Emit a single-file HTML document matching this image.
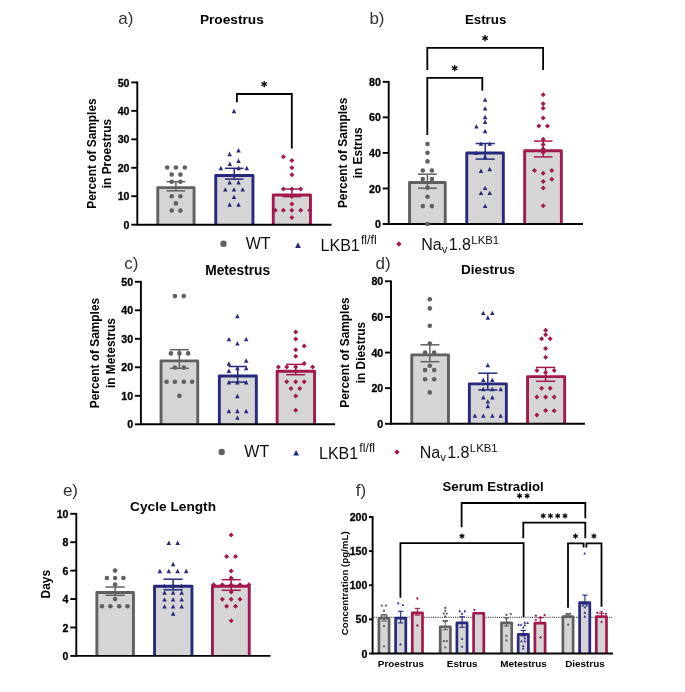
<!DOCTYPE html>
<html><head><meta charset="utf-8"><style>
html,body{margin:0;padding:0;background:#fff;}
svg{display:block;will-change:transform;}
#w{width:685px;height:692px;}
text{font-family:"Liberation Sans",sans-serif;}
</style></head><body><div id="w">
<svg width="685" height="692" viewBox="0 0 685 692">
<rect width="685" height="692" fill="#fff"/>
<text x="0.00" y="0.00" font-size="11.9" font-weight="bold" text-anchor="middle" fill="#000" transform="translate(95.70,153.55) rotate(-90)">Percent of Samples</text>
<text x="0.00" y="0.00" font-size="11.9" font-weight="bold" text-anchor="middle" fill="#000" transform="translate(111.00,153.55) rotate(-90)">in Proestrus</text>
<text x="118.20" y="24.20" font-size="17" font-weight="normal" text-anchor="start" fill="#333" >a)</text>
<text x="199.90" y="23.90" font-size="13.7" font-weight="bold" text-anchor="start" fill="#000" >Proestrus</text>
<rect x="157.75" y="187.65" width="36.30" height="37.05" fill="#d5d5d5"/>
<path d="M157.75 224.70V187.65H194.05V224.70" fill="none" stroke="#606060" stroke-width="2.9" stroke-linejoin="round"/>
<rect x="215.75" y="175.45" width="37.20" height="49.25" fill="#d5d5d5"/>
<path d="M215.75 224.70V175.45H252.95V224.70" fill="none" stroke="#272a7c" stroke-width="2.9" stroke-linejoin="round"/>
<rect x="273.25" y="195.05" width="37.20" height="29.65" fill="#d5d5d5"/>
<path d="M273.25 224.70V195.05H310.45V224.70" fill="none" stroke="#a2194f" stroke-width="2.9" stroke-linejoin="round"/>
<line x1="137.30" y1="81.50" x2="137.30" y2="225.60" stroke="#000" stroke-width="1.9" />
<line x1="131.30" y1="224.70" x2="137.30" y2="224.70" stroke="#000" stroke-width="1.9" />
<text x="129.50" y="228.80" font-size="10.6" font-weight="bold" text-anchor="end" fill="#000" stroke="#000" stroke-width="0.3">0</text>
<line x1="131.30" y1="196.24" x2="137.30" y2="196.24" stroke="#000" stroke-width="1.9" />
<text x="129.50" y="200.34" font-size="10.6" font-weight="bold" text-anchor="end" fill="#000" stroke="#000" stroke-width="0.3">10</text>
<line x1="131.30" y1="167.78" x2="137.30" y2="167.78" stroke="#000" stroke-width="1.9" />
<text x="129.50" y="171.88" font-size="10.6" font-weight="bold" text-anchor="end" fill="#000" stroke="#000" stroke-width="0.3">20</text>
<line x1="131.30" y1="139.32" x2="137.30" y2="139.32" stroke="#000" stroke-width="1.9" />
<text x="129.50" y="143.42" font-size="10.6" font-weight="bold" text-anchor="end" fill="#000" stroke="#000" stroke-width="0.3">30</text>
<line x1="131.30" y1="110.86" x2="137.30" y2="110.86" stroke="#000" stroke-width="1.9" />
<text x="129.50" y="114.96" font-size="10.6" font-weight="bold" text-anchor="end" fill="#000" stroke="#000" stroke-width="0.3">40</text>
<line x1="131.30" y1="82.40" x2="137.30" y2="82.40" stroke="#000" stroke-width="1.9" />
<text x="129.50" y="86.50" font-size="10.6" font-weight="bold" text-anchor="end" fill="#000" stroke="#000" stroke-width="0.3">50</text>
<line x1="137.30" y1="224.70" x2="331.50" y2="224.70" stroke="#000" stroke-width="1.9" />
<circle cx="167.20" cy="167.50" r="2.3" fill="#606060"/>
<circle cx="175.90" cy="167.50" r="2.3" fill="#606060"/>
<circle cx="184.80" cy="167.50" r="2.3" fill="#606060"/>
<circle cx="171.70" cy="174.60" r="2.3" fill="#606060"/>
<circle cx="180.40" cy="174.60" r="2.3" fill="#606060"/>
<circle cx="171.70" cy="181.70" r="2.3" fill="#606060"/>
<circle cx="180.40" cy="181.70" r="2.3" fill="#606060"/>
<circle cx="171.70" cy="196.30" r="2.3" fill="#606060"/>
<circle cx="180.40" cy="196.30" r="2.3" fill="#606060"/>
<circle cx="175.90" cy="203.40" r="2.3" fill="#606060"/>
<circle cx="171.70" cy="210.60" r="2.3" fill="#606060"/>
<circle cx="180.40" cy="210.60" r="2.3" fill="#606060"/>
<line x1="175.90" y1="181.70" x2="175.90" y2="190.80" stroke="#606060" stroke-width="1.5" />
<line x1="166.60" y1="181.70" x2="185.20" y2="181.70" stroke="#606060" stroke-width="1.5" />
<line x1="166.60" y1="190.80" x2="185.20" y2="190.80" stroke="#606060" stroke-width="1.5" />
<path d="M234.00 108.83L236.25 113.24L231.75 113.24Z" fill="#272a7c"/>
<path d="M238.50 148.03L240.75 152.44L236.25 152.44Z" fill="#272a7c"/>
<path d="M229.60 151.73L231.85 156.14L227.35 156.14Z" fill="#272a7c"/>
<path d="M229.80 161.53L232.05 165.94L227.55 165.94Z" fill="#272a7c"/>
<path d="M238.50 158.53L240.75 162.94L236.25 162.94Z" fill="#272a7c"/>
<path d="M220.90 165.83L223.15 170.24L218.65 170.24Z" fill="#272a7c"/>
<path d="M238.50 165.83L240.75 170.24L236.25 170.24Z" fill="#272a7c"/>
<path d="M246.80 165.83L249.05 170.24L244.55 170.24Z" fill="#272a7c"/>
<path d="M229.60 180.03L231.85 184.44L227.35 184.44Z" fill="#272a7c"/>
<path d="M238.50 180.03L240.75 184.44L236.25 184.44Z" fill="#272a7c"/>
<path d="M225.30 187.13L227.55 191.54L223.05 191.54Z" fill="#272a7c"/>
<path d="M234.00 187.13L236.25 191.54L231.75 191.54Z" fill="#272a7c"/>
<path d="M242.70 187.13L244.95 191.54L240.45 191.54Z" fill="#272a7c"/>
<path d="M234.00 194.63L236.25 199.04L231.75 199.04Z" fill="#272a7c"/>
<path d="M229.60 202.33L231.85 206.74L227.35 206.74Z" fill="#272a7c"/>
<path d="M238.50 202.33L240.75 206.74L236.25 206.74Z" fill="#272a7c"/>
<line x1="234.20" y1="168.30" x2="234.20" y2="179.10" stroke="#272a7c" stroke-width="1.5" />
<line x1="224.90" y1="168.30" x2="243.50" y2="168.30" stroke="#272a7c" stroke-width="1.5" />
<line x1="224.90" y1="179.10" x2="243.50" y2="179.10" stroke="#272a7c" stroke-width="1.5" />
<path d="M283.40 154.20L285.90 156.70L283.40 159.20L280.90 156.70Z" fill="#a2194f"/>
<path d="M291.90 158.10L294.40 160.60L291.90 163.10L289.40 160.60Z" fill="#a2194f"/>
<path d="M291.90 165.30L294.40 167.80L291.90 170.30L289.40 167.80Z" fill="#a2194f"/>
<path d="M291.90 172.20L294.40 174.70L291.90 177.20L289.40 174.70Z" fill="#a2194f"/>
<path d="M283.40 186.50L285.90 189.00L283.40 191.50L280.90 189.00Z" fill="#a2194f"/>
<path d="M291.90 186.50L294.40 189.00L291.90 191.50L289.40 189.00Z" fill="#a2194f"/>
<path d="M300.70 186.50L303.20 189.00L300.70 191.50L298.20 189.00Z" fill="#a2194f"/>
<path d="M291.90 194.10L294.40 196.60L291.90 199.10L289.40 196.60Z" fill="#a2194f"/>
<path d="M291.90 201.50L294.40 204.00L291.90 206.50L289.40 204.00Z" fill="#a2194f"/>
<path d="M275.30 207.80L277.80 210.30L275.30 212.80L272.80 210.30Z" fill="#a2194f"/>
<path d="M283.40 207.80L285.90 210.30L283.40 212.80L280.90 210.30Z" fill="#a2194f"/>
<path d="M291.90 207.80L294.40 210.30L291.90 212.80L289.40 210.30Z" fill="#a2194f"/>
<path d="M300.70 207.80L303.20 210.30L300.70 212.80L298.20 210.30Z" fill="#a2194f"/>
<path d="M309.70 207.80L312.20 210.30L309.70 212.80L307.20 210.30Z" fill="#a2194f"/>
<path d="M291.90 214.90L294.40 217.40L291.90 219.90L289.40 217.40Z" fill="#a2194f"/>
<line x1="291.90" y1="189.00" x2="291.90" y2="196.60" stroke="#a2194f" stroke-width="1.5" />
<line x1="282.50" y1="189.00" x2="301.30" y2="189.00" stroke="#a2194f" stroke-width="1.5" />
<line x1="282.50" y1="196.60" x2="301.30" y2="196.60" stroke="#a2194f" stroke-width="1.5" />
<path d="M236.9 102.2V94.0H291.8V148.6" fill="none" stroke="#000" stroke-width="1.8"/>
<line x1="264.20" y1="81.05" x2="264.20" y2="87.35" stroke="#000" stroke-width="1.3" />
<line x1="261.47" y1="82.62" x2="266.93" y2="85.78" stroke="#000" stroke-width="1.3" />
<line x1="266.93" y1="82.62" x2="261.47" y2="85.78" stroke="#000" stroke-width="1.3" />
<text x="0.00" y="0.00" font-size="11.9" font-weight="bold" text-anchor="middle" fill="#000" transform="translate(347.10,152.93) rotate(-90)">Percent of Samples</text>
<text x="0.00" y="0.00" font-size="11.9" font-weight="bold" text-anchor="middle" fill="#000" transform="translate(362.40,152.93) rotate(-90)">in Estrus</text>
<text x="369.40" y="24.40" font-size="17" font-weight="normal" text-anchor="start" fill="#333" >b)</text>
<text x="464.90" y="23.80" font-size="13.3" font-weight="bold" text-anchor="start" fill="#000" >Estrus</text>
<rect x="409.55" y="182.45" width="35.70" height="41.55" fill="#d5d5d5"/>
<path d="M409.55 224.00V182.45H445.25V224.00" fill="none" stroke="#606060" stroke-width="2.9" stroke-linejoin="round"/>
<rect x="466.75" y="152.95" width="36.60" height="71.05" fill="#d5d5d5"/>
<path d="M466.75 224.00V152.95H503.35V224.00" fill="none" stroke="#272a7c" stroke-width="2.9" stroke-linejoin="round"/>
<rect x="524.65" y="150.75" width="36.70" height="73.25" fill="#d5d5d5"/>
<path d="M524.65 224.00V150.75H561.35V224.00" fill="none" stroke="#a2194f" stroke-width="2.9" stroke-linejoin="round"/>
<line x1="388.70" y1="80.95" x2="388.70" y2="224.90" stroke="#000" stroke-width="1.9" />
<line x1="382.70" y1="224.00" x2="388.70" y2="224.00" stroke="#000" stroke-width="1.9" />
<text x="380.90" y="228.10" font-size="10.6" font-weight="bold" text-anchor="end" fill="#000" stroke="#000" stroke-width="0.3">0</text>
<line x1="382.70" y1="188.46" x2="388.70" y2="188.46" stroke="#000" stroke-width="1.9" />
<text x="380.90" y="192.56" font-size="10.6" font-weight="bold" text-anchor="end" fill="#000" stroke="#000" stroke-width="0.3">20</text>
<line x1="382.70" y1="152.93" x2="388.70" y2="152.93" stroke="#000" stroke-width="1.9" />
<text x="380.90" y="157.03" font-size="10.6" font-weight="bold" text-anchor="end" fill="#000" stroke="#000" stroke-width="0.3">40</text>
<line x1="382.70" y1="117.39" x2="388.70" y2="117.39" stroke="#000" stroke-width="1.9" />
<text x="380.90" y="121.49" font-size="10.6" font-weight="bold" text-anchor="end" fill="#000" stroke="#000" stroke-width="0.3">60</text>
<line x1="382.70" y1="81.85" x2="388.70" y2="81.85" stroke="#000" stroke-width="1.9" />
<text x="380.90" y="85.95" font-size="10.6" font-weight="bold" text-anchor="end" fill="#000" stroke="#000" stroke-width="0.3">80</text>
<line x1="388.70" y1="224.00" x2="583.00" y2="224.00" stroke="#000" stroke-width="1.9" />
<circle cx="427.50" cy="144.00" r="2.3" fill="#606060"/>
<circle cx="427.50" cy="152.80" r="2.3" fill="#606060"/>
<circle cx="427.50" cy="161.40" r="2.3" fill="#606060"/>
<circle cx="422.80" cy="170.50" r="2.3" fill="#606060"/>
<circle cx="431.90" cy="170.50" r="2.3" fill="#606060"/>
<circle cx="422.80" cy="179.10" r="2.3" fill="#606060"/>
<circle cx="431.90" cy="179.10" r="2.3" fill="#606060"/>
<circle cx="427.50" cy="187.70" r="2.3" fill="#606060"/>
<circle cx="427.50" cy="196.80" r="2.3" fill="#606060"/>
<circle cx="422.80" cy="206.10" r="2.3" fill="#606060"/>
<circle cx="431.90" cy="206.10" r="2.3" fill="#606060"/>
<circle cx="427.50" cy="224.00" r="2.3" fill="#606060"/>
<line x1="427.40" y1="174.20" x2="427.40" y2="188.20" stroke="#606060" stroke-width="1.5" />
<line x1="418.00" y1="174.20" x2="436.80" y2="174.20" stroke="#606060" stroke-width="1.5" />
<line x1="418.00" y1="188.20" x2="436.80" y2="188.20" stroke="#606060" stroke-width="1.5" />
<path d="M485.10 97.43L487.35 101.84L482.85 101.84Z" fill="#272a7c"/>
<path d="M485.10 106.13L487.35 110.54L482.85 110.54Z" fill="#272a7c"/>
<path d="M485.10 114.73L487.35 119.14L482.85 119.14Z" fill="#272a7c"/>
<path d="M485.10 119.53L487.35 123.94L482.85 123.94Z" fill="#272a7c"/>
<path d="M476.40 124.13L478.65 128.54L474.15 128.54Z" fill="#272a7c"/>
<path d="M485.10 128.83L487.35 133.24L482.85 133.24Z" fill="#272a7c"/>
<path d="M481.00 141.43L483.25 145.84L478.75 145.84Z" fill="#272a7c"/>
<path d="M489.70 141.43L491.95 145.84L487.45 145.84Z" fill="#272a7c"/>
<path d="M476.20 150.53L478.45 154.94L473.95 154.94Z" fill="#272a7c"/>
<path d="M485.10 154.23L487.35 158.64L482.85 158.64Z" fill="#272a7c"/>
<path d="M481.00 168.53L483.25 172.94L478.75 172.94Z" fill="#272a7c"/>
<path d="M489.70 166.73L491.95 171.14L487.45 171.14Z" fill="#272a7c"/>
<path d="M485.10 185.63L487.35 190.04L482.85 190.04Z" fill="#272a7c"/>
<path d="M481.00 190.63L483.25 195.04L478.75 195.04Z" fill="#272a7c"/>
<path d="M489.70 190.63L491.95 195.04L487.45 195.04Z" fill="#272a7c"/>
<path d="M485.10 203.63L487.35 208.04L482.85 208.04Z" fill="#272a7c"/>
<line x1="485.20" y1="143.50" x2="485.20" y2="159.10" stroke="#272a7c" stroke-width="1.5" />
<line x1="475.60" y1="143.50" x2="494.80" y2="143.50" stroke="#272a7c" stroke-width="1.5" />
<line x1="475.60" y1="159.10" x2="494.80" y2="159.10" stroke="#272a7c" stroke-width="1.5" />
<path d="M543.20 92.20L545.70 94.70L543.20 97.20L540.70 94.70Z" fill="#a2194f"/>
<path d="M543.20 101.30L545.70 103.80L543.20 106.30L540.70 103.80Z" fill="#a2194f"/>
<path d="M543.20 105.70L545.70 108.20L543.20 110.70L540.70 108.20Z" fill="#a2194f"/>
<path d="M543.20 115.40L545.70 117.90L543.20 120.40L540.70 117.90Z" fill="#a2194f"/>
<path d="M538.80 123.40L541.30 125.90L538.80 128.40L536.30 125.90Z" fill="#a2194f"/>
<path d="M547.50 123.40L550.00 125.90L547.50 128.40L545.00 125.90Z" fill="#a2194f"/>
<path d="M543.20 136.70L545.70 139.20L543.20 141.70L540.70 139.20Z" fill="#a2194f"/>
<path d="M543.20 141.90L545.70 144.40L543.20 146.90L540.70 144.40Z" fill="#a2194f"/>
<path d="M543.20 146.40L545.70 148.90L543.20 151.40L540.70 148.90Z" fill="#a2194f"/>
<path d="M543.20 150.10L545.70 152.60L543.20 155.10L540.70 152.60Z" fill="#a2194f"/>
<path d="M534.50 168.10L537.00 170.60L534.50 173.10L532.00 170.60Z" fill="#a2194f"/>
<path d="M551.80 168.10L554.30 170.60L551.80 173.10L549.30 170.60Z" fill="#a2194f"/>
<path d="M543.20 170.70L545.70 173.20L543.20 175.70L540.70 173.20Z" fill="#a2194f"/>
<path d="M551.80 176.70L554.30 179.20L551.80 181.70L549.30 179.20Z" fill="#a2194f"/>
<path d="M543.20 178.90L545.70 181.40L543.20 183.90L540.70 181.40Z" fill="#a2194f"/>
<path d="M543.20 185.40L545.70 187.90L543.20 190.40L540.70 187.90Z" fill="#a2194f"/>
<path d="M543.20 203.20L545.70 205.70L543.20 208.20L540.70 205.70Z" fill="#a2194f"/>
<line x1="543.20" y1="141.10" x2="543.20" y2="156.90" stroke="#a2194f" stroke-width="1.5" />
<line x1="533.90" y1="141.10" x2="552.50" y2="141.10" stroke="#a2194f" stroke-width="1.5" />
<line x1="533.90" y1="156.90" x2="552.50" y2="156.90" stroke="#a2194f" stroke-width="1.5" />
<path d="M427.3 70V47.8H543.1V70" fill="none" stroke="#000" stroke-width="1.8"/>
<path d="M427.3 134.9V77.9H482.3V90.8" fill="none" stroke="#000" stroke-width="1.8"/>
<line x1="485.10" y1="34.95" x2="485.10" y2="41.25" stroke="#000" stroke-width="1.3" />
<line x1="482.37" y1="36.52" x2="487.83" y2="39.68" stroke="#000" stroke-width="1.3" />
<line x1="487.83" y1="36.52" x2="482.37" y2="39.68" stroke="#000" stroke-width="1.3" />
<line x1="454.70" y1="65.05" x2="454.70" y2="71.35" stroke="#000" stroke-width="1.3" />
<line x1="451.97" y1="66.62" x2="457.43" y2="69.78" stroke="#000" stroke-width="1.3" />
<line x1="457.43" y1="66.62" x2="451.97" y2="69.78" stroke="#000" stroke-width="1.3" />
<circle cx="223.50" cy="243.80" r="3.2" fill="#606060"/>
<text x="245.70" y="249.40" font-size="16" font-weight="normal" text-anchor="start" fill="#111" >WT</text>
<path d="M298.00 242.23L300.90 247.91L295.10 247.91Z" fill="#272a7c"/>
<text x="320.60" y="251.30" font-size="16" font-weight="normal" text-anchor="start" fill="#111" >LKB1<tspan font-size="12.3" dx="1.2" dy="-7.2">fl/fl</tspan></text>
<path d="M398.90 241.30L401.60 244.00L398.90 246.70L396.20 244.00Z" fill="#a2194f"/>
<text x="421.30" y="249.70" font-size="16" font-weight="normal" text-anchor="start" fill="#111" >Na<tspan font-size="11.5" dy="3.4">v</tspan><tspan dx="1.2" dy="-3.4">1.8</tspan><tspan font-size="11.3" dx="0.4" dy="-5.6">LKB1</tspan></text>
<text x="0.00" y="0.00" font-size="11.9" font-weight="bold" text-anchor="middle" fill="#000" transform="translate(99.30,353.05) rotate(-90)">Percent of Samples</text>
<text x="0.00" y="0.00" font-size="11.9" font-weight="bold" text-anchor="middle" fill="#000" transform="translate(114.60,353.05) rotate(-90)">in Metestrus</text>
<text x="124.20" y="269.20" font-size="17" font-weight="normal" text-anchor="start" fill="#333" >c)</text>
<text x="205.20" y="274.90" font-size="13.75" font-weight="bold" text-anchor="start" fill="#000" >Metestrus</text>
<rect x="161.05" y="360.85" width="36.70" height="63.45" fill="#d5d5d5"/>
<path d="M161.05 424.30V360.85H197.75V424.30" fill="none" stroke="#606060" stroke-width="2.9" stroke-linejoin="round"/>
<rect x="219.35" y="376.05" width="37.00" height="48.25" fill="#d5d5d5"/>
<path d="M219.35 424.30V376.05H256.35V424.30" fill="none" stroke="#272a7c" stroke-width="2.9" stroke-linejoin="round"/>
<rect x="277.15" y="371.25" width="37.40" height="53.05" fill="#d5d5d5"/>
<path d="M277.15 424.30V371.25H314.55V424.30" fill="none" stroke="#a2194f" stroke-width="2.9" stroke-linejoin="round"/>
<line x1="140.90" y1="280.90" x2="140.90" y2="425.20" stroke="#000" stroke-width="1.9" />
<line x1="134.90" y1="424.30" x2="140.90" y2="424.30" stroke="#000" stroke-width="1.9" />
<text x="133.10" y="428.40" font-size="10.6" font-weight="bold" text-anchor="end" fill="#000" stroke="#000" stroke-width="0.3">0</text>
<line x1="134.90" y1="395.80" x2="140.90" y2="395.80" stroke="#000" stroke-width="1.9" />
<text x="133.10" y="399.90" font-size="10.6" font-weight="bold" text-anchor="end" fill="#000" stroke="#000" stroke-width="0.3">10</text>
<line x1="134.90" y1="367.30" x2="140.90" y2="367.30" stroke="#000" stroke-width="1.9" />
<text x="133.10" y="371.40" font-size="10.6" font-weight="bold" text-anchor="end" fill="#000" stroke="#000" stroke-width="0.3">20</text>
<line x1="134.90" y1="338.80" x2="140.90" y2="338.80" stroke="#000" stroke-width="1.9" />
<text x="133.10" y="342.90" font-size="10.6" font-weight="bold" text-anchor="end" fill="#000" stroke="#000" stroke-width="0.3">30</text>
<line x1="134.90" y1="310.30" x2="140.90" y2="310.30" stroke="#000" stroke-width="1.9" />
<text x="133.10" y="314.40" font-size="10.6" font-weight="bold" text-anchor="end" fill="#000" stroke="#000" stroke-width="0.3">40</text>
<line x1="134.90" y1="281.80" x2="140.90" y2="281.80" stroke="#000" stroke-width="1.9" />
<text x="133.10" y="285.90" font-size="10.6" font-weight="bold" text-anchor="end" fill="#000" stroke="#000" stroke-width="0.3">50</text>
<line x1="140.90" y1="424.30" x2="335.10" y2="424.30" stroke="#000" stroke-width="1.9" />
<circle cx="174.90" cy="296.10" r="2.3" fill="#606060"/>
<circle cx="183.80" cy="296.10" r="2.3" fill="#606060"/>
<circle cx="170.90" cy="353.40" r="2.3" fill="#606060"/>
<circle cx="179.40" cy="353.40" r="2.3" fill="#606060"/>
<circle cx="188.10" cy="353.40" r="2.3" fill="#606060"/>
<circle cx="174.90" cy="367.50" r="2.3" fill="#606060"/>
<circle cx="183.80" cy="367.50" r="2.3" fill="#606060"/>
<circle cx="166.60" cy="381.70" r="2.3" fill="#606060"/>
<circle cx="174.90" cy="381.70" r="2.3" fill="#606060"/>
<circle cx="183.80" cy="381.70" r="2.3" fill="#606060"/>
<circle cx="192.10" cy="381.70" r="2.3" fill="#606060"/>
<circle cx="179.40" cy="395.90" r="2.3" fill="#606060"/>
<line x1="179.40" y1="349.70" x2="179.40" y2="368.30" stroke="#606060" stroke-width="1.5" />
<line x1="169.90" y1="349.70" x2="188.90" y2="349.70" stroke="#606060" stroke-width="1.5" />
<line x1="169.90" y1="368.30" x2="188.90" y2="368.30" stroke="#606060" stroke-width="1.5" />
<path d="M237.40 313.83L239.65 318.24L235.15 318.24Z" fill="#272a7c"/>
<path d="M228.90 336.93L231.15 341.34L226.65 341.34Z" fill="#272a7c"/>
<path d="M246.20 336.93L248.45 341.34L243.95 341.34Z" fill="#272a7c"/>
<path d="M237.40 341.13L239.65 345.54L235.15 345.54Z" fill="#272a7c"/>
<path d="M228.90 361.23L231.15 365.64L226.65 365.64Z" fill="#272a7c"/>
<path d="M246.20 358.33L248.45 362.74L243.95 362.74Z" fill="#272a7c"/>
<path d="M237.40 365.93L239.65 370.34L235.15 370.34Z" fill="#272a7c"/>
<path d="M246.20 365.93L248.45 370.34L243.95 370.34Z" fill="#272a7c"/>
<path d="M228.90 368.53L231.15 372.94L226.65 372.94Z" fill="#272a7c"/>
<path d="M228.90 380.03L231.15 384.44L226.65 384.44Z" fill="#272a7c"/>
<path d="M237.40 380.03L239.65 384.44L235.15 384.44Z" fill="#272a7c"/>
<path d="M246.20 380.03L248.45 384.44L243.95 384.44Z" fill="#272a7c"/>
<path d="M237.40 393.83L239.65 398.24L235.15 398.24Z" fill="#272a7c"/>
<path d="M228.90 408.83L231.15 413.24L226.65 413.24Z" fill="#272a7c"/>
<path d="M237.40 408.83L239.65 413.24L235.15 413.24Z" fill="#272a7c"/>
<path d="M246.20 408.83L248.45 413.24L243.95 413.24Z" fill="#272a7c"/>
<path d="M237.40 415.43L239.65 419.84L235.15 419.84Z" fill="#272a7c"/>
<line x1="237.70" y1="366.50" x2="237.70" y2="382.10" stroke="#272a7c" stroke-width="1.5" />
<line x1="228.50" y1="366.50" x2="246.90" y2="366.50" stroke="#272a7c" stroke-width="1.5" />
<line x1="228.50" y1="382.10" x2="246.90" y2="382.10" stroke="#272a7c" stroke-width="1.5" />
<path d="M295.70 329.40L298.20 331.90L295.70 334.40L293.20 331.90Z" fill="#a2194f"/>
<path d="M295.70 336.50L298.20 339.00L295.70 341.50L293.20 339.00Z" fill="#a2194f"/>
<path d="M304.20 343.50L306.70 346.00L304.20 348.50L301.70 346.00Z" fill="#a2194f"/>
<path d="M295.70 347.20L298.20 349.70L295.70 352.20L293.20 349.70Z" fill="#a2194f"/>
<path d="M295.70 353.80L298.20 356.30L295.70 358.80L293.20 356.30Z" fill="#a2194f"/>
<path d="M304.20 361.00L306.70 363.50L304.20 366.00L301.70 363.50Z" fill="#a2194f"/>
<path d="M278.40 364.50L280.90 367.00L278.40 369.50L275.90 367.00Z" fill="#a2194f"/>
<path d="M286.70 364.50L289.20 367.00L286.70 369.50L284.20 367.00Z" fill="#a2194f"/>
<path d="M295.70 364.50L298.20 367.00L295.70 369.50L293.20 367.00Z" fill="#a2194f"/>
<path d="M312.60 364.50L315.10 367.00L312.60 369.50L310.10 367.00Z" fill="#a2194f"/>
<path d="M286.70 379.20L289.20 381.70L286.70 384.20L284.20 381.70Z" fill="#a2194f"/>
<path d="M295.70 379.20L298.20 381.70L295.70 384.20L293.20 381.70Z" fill="#a2194f"/>
<path d="M304.20 379.20L306.70 381.70L304.20 384.20L301.70 381.70Z" fill="#a2194f"/>
<path d="M291.00 386.10L293.50 388.60L291.00 391.10L288.50 388.60Z" fill="#a2194f"/>
<path d="M299.80 386.10L302.30 388.60L299.80 391.10L297.30 388.60Z" fill="#a2194f"/>
<path d="M295.70 393.60L298.20 396.10L295.70 398.60L293.20 396.10Z" fill="#a2194f"/>
<path d="M295.70 407.70L298.20 410.20L295.70 412.70L293.20 410.20Z" fill="#a2194f"/>
<line x1="295.70" y1="364.40" x2="295.70" y2="374.70" stroke="#a2194f" stroke-width="1.5" />
<line x1="286.20" y1="364.40" x2="305.20" y2="364.40" stroke="#a2194f" stroke-width="1.5" />
<line x1="286.20" y1="374.70" x2="305.20" y2="374.70" stroke="#a2194f" stroke-width="1.5" />
<text x="0.00" y="0.00" font-size="11.9" font-weight="bold" text-anchor="middle" fill="#000" transform="translate(349.40,352.55) rotate(-90)">Percent of Samples</text>
<text x="0.00" y="0.00" font-size="11.9" font-weight="bold" text-anchor="middle" fill="#000" transform="translate(364.70,352.55) rotate(-90)">in Diestrus</text>
<text x="375.60" y="269.00" font-size="17" font-weight="normal" text-anchor="start" fill="#333" >d)</text>
<text x="460.90" y="273.80" font-size="13.5" font-weight="bold" text-anchor="start" fill="#000" >Diestrus</text>
<rect x="411.75" y="354.85" width="36.70" height="68.95" fill="#d5d5d5"/>
<path d="M411.75 423.80V354.85H448.45V423.80" fill="none" stroke="#606060" stroke-width="2.9" stroke-linejoin="round"/>
<rect x="469.35" y="383.85" width="37.00" height="39.95" fill="#d5d5d5"/>
<path d="M469.35 423.80V383.85H506.35V423.80" fill="none" stroke="#272a7c" stroke-width="2.9" stroke-linejoin="round"/>
<rect x="527.55" y="376.65" width="37.10" height="47.15" fill="#d5d5d5"/>
<path d="M527.55 423.80V376.65H564.65V423.80" fill="none" stroke="#a2194f" stroke-width="2.9" stroke-linejoin="round"/>
<line x1="391.00" y1="280.40" x2="391.00" y2="424.70" stroke="#000" stroke-width="1.9" />
<line x1="385.00" y1="423.80" x2="391.00" y2="423.80" stroke="#000" stroke-width="1.9" />
<text x="383.20" y="427.90" font-size="10.6" font-weight="bold" text-anchor="end" fill="#000" stroke="#000" stroke-width="0.3">0</text>
<line x1="385.00" y1="388.18" x2="391.00" y2="388.18" stroke="#000" stroke-width="1.9" />
<text x="383.20" y="392.28" font-size="10.6" font-weight="bold" text-anchor="end" fill="#000" stroke="#000" stroke-width="0.3">20</text>
<line x1="385.00" y1="352.55" x2="391.00" y2="352.55" stroke="#000" stroke-width="1.9" />
<text x="383.20" y="356.65" font-size="10.6" font-weight="bold" text-anchor="end" fill="#000" stroke="#000" stroke-width="0.3">40</text>
<line x1="385.00" y1="316.93" x2="391.00" y2="316.93" stroke="#000" stroke-width="1.9" />
<text x="383.20" y="321.03" font-size="10.6" font-weight="bold" text-anchor="end" fill="#000" stroke="#000" stroke-width="0.3">60</text>
<line x1="385.00" y1="281.30" x2="391.00" y2="281.30" stroke="#000" stroke-width="1.9" />
<text x="383.20" y="285.40" font-size="10.6" font-weight="bold" text-anchor="end" fill="#000" stroke="#000" stroke-width="0.3">80</text>
<line x1="391.00" y1="423.80" x2="584.90" y2="423.80" stroke="#000" stroke-width="1.9" />
<circle cx="429.80" cy="299.20" r="2.3" fill="#606060"/>
<circle cx="429.80" cy="308.40" r="2.3" fill="#606060"/>
<circle cx="429.80" cy="325.80" r="2.3" fill="#606060"/>
<circle cx="429.80" cy="343.50" r="2.3" fill="#606060"/>
<circle cx="425.10" cy="352.60" r="2.3" fill="#606060"/>
<circle cx="434.20" cy="352.60" r="2.3" fill="#606060"/>
<circle cx="429.80" cy="365.80" r="2.3" fill="#606060"/>
<circle cx="425.10" cy="370.10" r="2.3" fill="#606060"/>
<circle cx="434.20" cy="370.10" r="2.3" fill="#606060"/>
<circle cx="425.10" cy="379.20" r="2.3" fill="#606060"/>
<circle cx="434.20" cy="379.20" r="2.3" fill="#606060"/>
<circle cx="429.80" cy="392.40" r="2.3" fill="#606060"/>
<line x1="429.90" y1="344.80" x2="429.90" y2="361.70" stroke="#606060" stroke-width="1.5" />
<line x1="420.40" y1="344.80" x2="439.40" y2="344.80" stroke="#606060" stroke-width="1.5" />
<line x1="420.40" y1="361.70" x2="439.40" y2="361.70" stroke="#606060" stroke-width="1.5" />
<path d="M483.30 310.63L485.55 315.04L481.05 315.04Z" fill="#272a7c"/>
<path d="M492.30 310.63L494.55 315.04L490.05 315.04Z" fill="#272a7c"/>
<path d="M487.80 315.33L490.05 319.74L485.55 319.74Z" fill="#272a7c"/>
<path d="M487.80 362.93L490.05 367.34L485.55 367.34Z" fill="#272a7c"/>
<path d="M483.30 377.63L485.55 382.04L481.05 382.04Z" fill="#272a7c"/>
<path d="M492.30 377.63L494.55 382.04L490.05 382.04Z" fill="#272a7c"/>
<path d="M483.30 386.83L485.55 391.24L481.05 391.24Z" fill="#272a7c"/>
<path d="M492.30 386.83L494.55 391.24L490.05 391.24Z" fill="#272a7c"/>
<path d="M500.70 386.83L502.95 391.24L498.45 391.24Z" fill="#272a7c"/>
<path d="M483.30 395.03L485.55 399.44L481.05 399.44Z" fill="#272a7c"/>
<path d="M492.30 395.03L494.55 399.44L490.05 399.44Z" fill="#272a7c"/>
<path d="M487.80 399.13L490.05 403.54L485.55 403.54Z" fill="#272a7c"/>
<path d="M487.80 403.83L490.05 408.24L485.55 408.24Z" fill="#272a7c"/>
<path d="M474.90 413.43L477.15 417.84L472.65 417.84Z" fill="#272a7c"/>
<path d="M483.30 413.43L485.55 417.84L481.05 417.84Z" fill="#272a7c"/>
<path d="M492.30 413.43L494.55 417.84L490.05 417.84Z" fill="#272a7c"/>
<path d="M500.70 413.43L502.95 417.84L498.45 417.84Z" fill="#272a7c"/>
<line x1="487.80" y1="373.20" x2="487.80" y2="389.90" stroke="#272a7c" stroke-width="1.5" />
<line x1="478.20" y1="373.20" x2="497.40" y2="373.20" stroke="#272a7c" stroke-width="1.5" />
<line x1="478.20" y1="389.90" x2="497.40" y2="389.90" stroke="#272a7c" stroke-width="1.5" />
<path d="M545.60 327.70L548.10 330.20L545.60 332.70L543.10 330.20Z" fill="#a2194f"/>
<path d="M545.60 332.20L548.10 334.70L545.60 337.20L543.10 334.70Z" fill="#a2194f"/>
<path d="M541.60 336.30L544.10 338.80L541.60 341.30L539.10 338.80Z" fill="#a2194f"/>
<path d="M550.10 336.30L552.60 338.80L550.10 341.30L547.60 338.80Z" fill="#a2194f"/>
<path d="M545.60 345.90L548.10 348.40L545.60 350.90L543.10 348.40Z" fill="#a2194f"/>
<path d="M545.60 354.70L548.10 357.20L545.60 359.70L543.10 357.20Z" fill="#a2194f"/>
<path d="M536.90 368.00L539.40 370.50L536.90 373.00L534.40 370.50Z" fill="#a2194f"/>
<path d="M554.20 368.00L556.70 370.50L554.20 373.00L551.70 370.50Z" fill="#a2194f"/>
<path d="M545.60 370.10L548.10 372.60L545.60 375.10L543.10 372.60Z" fill="#a2194f"/>
<path d="M541.60 385.80L544.10 388.30L541.60 390.80L539.10 388.30Z" fill="#a2194f"/>
<path d="M550.10 385.80L552.60 388.30L550.10 390.80L547.60 388.30Z" fill="#a2194f"/>
<path d="M536.90 394.60L539.40 397.10L536.90 399.60L534.40 397.10Z" fill="#a2194f"/>
<path d="M545.60 394.60L548.10 397.10L545.60 399.60L543.10 397.10Z" fill="#a2194f"/>
<path d="M554.20 394.60L556.70 397.10L554.20 399.60L551.70 397.10Z" fill="#a2194f"/>
<path d="M545.60 407.90L548.10 410.40L545.60 412.90L543.10 410.40Z" fill="#a2194f"/>
<path d="M554.20 408.30L556.70 410.80L554.20 413.30L551.70 410.80Z" fill="#a2194f"/>
<path d="M536.90 412.40L539.40 414.90L536.90 417.40L534.40 414.90Z" fill="#a2194f"/>
<line x1="545.60" y1="367.40" x2="545.60" y2="381.30" stroke="#a2194f" stroke-width="1.5" />
<line x1="535.90" y1="367.40" x2="555.30" y2="367.40" stroke="#a2194f" stroke-width="1.5" />
<line x1="535.90" y1="381.30" x2="555.30" y2="381.30" stroke="#a2194f" stroke-width="1.5" />
<circle cx="221.70" cy="452.00" r="3.2" fill="#606060"/>
<text x="244.30" y="456.80" font-size="16" font-weight="normal" text-anchor="start" fill="#111" >WT</text>
<path d="M296.10 449.93L299.00 455.61L293.20 455.61Z" fill="#272a7c"/>
<text x="319.00" y="459.20" font-size="16" font-weight="normal" text-anchor="start" fill="#111" >LKB1<tspan font-size="12.3" dx="1.2" dy="-7.2">fl/fl</tspan></text>
<path d="M397.00 449.40L399.70 452.10L397.00 454.80L394.30 452.10Z" fill="#a2194f"/>
<text x="419.80" y="457.90" font-size="16" font-weight="normal" text-anchor="start" fill="#111" >Na<tspan font-size="11.5" dy="3.4">v</tspan><tspan dx="1.2" dy="-3.4">1.8</tspan><tspan font-size="11.3" dx="0.4" dy="-5.6">LKB1</tspan></text>
<text x="0.00" y="0.00" font-size="11.9" font-weight="bold" text-anchor="middle" fill="#000" transform="translate(50.2,584.2) rotate(-90)">Days</text>
<text x="62.90" y="495.50" font-size="17" font-weight="normal" text-anchor="start" fill="#333" >e)</text>
<text x="130.10" y="511.00" font-size="13.7" font-weight="bold" text-anchor="start" fill="#000" >Cycle Length</text>
<rect x="96.85" y="592.55" width="36.60" height="63.35" fill="#d5d5d5"/>
<path d="M96.85 655.90V592.55H133.45V655.90" fill="none" stroke="#606060" stroke-width="2.9" stroke-linejoin="round"/>
<rect x="154.55" y="586.25" width="37.40" height="69.65" fill="#d5d5d5"/>
<path d="M154.55 655.90V586.25H191.95V655.90" fill="none" stroke="#272a7c" stroke-width="2.9" stroke-linejoin="round"/>
<rect x="212.45" y="586.25" width="36.80" height="69.65" fill="#d5d5d5"/>
<path d="M212.45 655.90V586.25H249.25V655.90" fill="none" stroke="#a2194f" stroke-width="2.9" stroke-linejoin="round"/>
<line x1="76.30" y1="512.90" x2="76.30" y2="656.80" stroke="#000" stroke-width="1.9" />
<line x1="70.30" y1="655.90" x2="76.30" y2="655.90" stroke="#000" stroke-width="1.9" />
<text x="68.50" y="660.00" font-size="10.6" font-weight="bold" text-anchor="end" fill="#000" stroke="#000" stroke-width="0.3">0</text>
<line x1="70.30" y1="627.48" x2="76.30" y2="627.48" stroke="#000" stroke-width="1.9" />
<text x="68.50" y="631.58" font-size="10.6" font-weight="bold" text-anchor="end" fill="#000" stroke="#000" stroke-width="0.3">2</text>
<line x1="70.30" y1="599.06" x2="76.30" y2="599.06" stroke="#000" stroke-width="1.9" />
<text x="68.50" y="603.16" font-size="10.6" font-weight="bold" text-anchor="end" fill="#000" stroke="#000" stroke-width="0.3">4</text>
<line x1="70.30" y1="570.64" x2="76.30" y2="570.64" stroke="#000" stroke-width="1.9" />
<text x="68.50" y="574.74" font-size="10.6" font-weight="bold" text-anchor="end" fill="#000" stroke="#000" stroke-width="0.3">6</text>
<line x1="70.30" y1="542.22" x2="76.30" y2="542.22" stroke="#000" stroke-width="1.9" />
<text x="68.50" y="546.32" font-size="10.6" font-weight="bold" text-anchor="end" fill="#000" stroke="#000" stroke-width="0.3">8</text>
<line x1="70.30" y1="513.80" x2="76.30" y2="513.80" stroke="#000" stroke-width="1.9" />
<text x="68.50" y="517.90" font-size="10.6" font-weight="bold" text-anchor="end" fill="#000" stroke="#000" stroke-width="0.3">10</text>
<line x1="76.30" y1="655.90" x2="270.50" y2="655.90" stroke="#000" stroke-width="1.9" />
<circle cx="115.10" cy="570.60" r="2.3" fill="#606060"/>
<circle cx="106.90" cy="578.00" r="2.3" fill="#606060"/>
<circle cx="115.10" cy="578.00" r="2.3" fill="#606060"/>
<circle cx="123.40" cy="578.00" r="2.3" fill="#606060"/>
<circle cx="115.10" cy="584.60" r="2.3" fill="#606060"/>
<circle cx="115.10" cy="599.10" r="2.3" fill="#606060"/>
<circle cx="101.90" cy="606.20" r="2.3" fill="#606060"/>
<circle cx="110.40" cy="606.20" r="2.3" fill="#606060"/>
<circle cx="119.20" cy="606.20" r="2.3" fill="#606060"/>
<circle cx="127.50" cy="606.20" r="2.3" fill="#606060"/>
<line x1="115.10" y1="587.00" x2="115.10" y2="595.30" stroke="#606060" stroke-width="1.5" />
<line x1="105.50" y1="587.00" x2="124.70" y2="587.00" stroke="#606060" stroke-width="1.5" />
<line x1="105.50" y1="595.30" x2="124.70" y2="595.30" stroke="#606060" stroke-width="1.5" />
<path d="M168.80 540.53L171.05 544.94L166.55 544.94Z" fill="#272a7c"/>
<path d="M177.60 540.53L179.85 544.94L175.35 544.94Z" fill="#272a7c"/>
<path d="M173.10 561.73L175.35 566.14L170.85 566.14Z" fill="#272a7c"/>
<path d="M159.90 568.83L162.15 573.24L157.65 573.24Z" fill="#272a7c"/>
<path d="M168.80 568.83L171.05 573.24L166.55 573.24Z" fill="#272a7c"/>
<path d="M177.60 568.83L179.85 573.24L175.35 573.24Z" fill="#272a7c"/>
<path d="M186.20 568.83L188.45 573.24L183.95 573.24Z" fill="#272a7c"/>
<path d="M164.50 583.43L166.75 587.84L162.25 587.84Z" fill="#272a7c"/>
<path d="M173.10 583.43L175.35 587.84L170.85 587.84Z" fill="#272a7c"/>
<path d="M181.70 583.43L183.95 587.84L179.45 587.84Z" fill="#272a7c"/>
<path d="M164.50 590.23L166.75 594.64L162.25 594.64Z" fill="#272a7c"/>
<path d="M173.10 590.23L175.35 594.64L170.85 594.64Z" fill="#272a7c"/>
<path d="M181.70 590.23L183.95 594.64L179.45 594.64Z" fill="#272a7c"/>
<path d="M164.50 597.13L166.75 601.54L162.25 601.54Z" fill="#272a7c"/>
<path d="M173.10 597.13L175.35 601.54L170.85 601.54Z" fill="#272a7c"/>
<path d="M181.70 597.13L183.95 601.54L179.45 601.54Z" fill="#272a7c"/>
<path d="M164.50 604.13L166.75 608.54L162.25 608.54Z" fill="#272a7c"/>
<path d="M173.10 604.13L175.35 608.54L170.85 608.54Z" fill="#272a7c"/>
<path d="M181.70 604.13L183.95 608.54L179.45 608.54Z" fill="#272a7c"/>
<path d="M173.10 611.23L175.35 615.64L170.85 615.64Z" fill="#272a7c"/>
<line x1="173.10" y1="579.20" x2="173.10" y2="589.80" stroke="#272a7c" stroke-width="1.5" />
<line x1="163.50" y1="579.20" x2="182.70" y2="579.20" stroke="#272a7c" stroke-width="1.5" />
<line x1="163.50" y1="589.80" x2="182.70" y2="589.80" stroke="#272a7c" stroke-width="1.5" />
<path d="M231.20 532.50L233.70 535.00L231.20 537.50L228.70 535.00Z" fill="#a2194f"/>
<path d="M226.60 554.00L229.10 556.50L226.60 559.00L224.10 556.50Z" fill="#a2194f"/>
<path d="M235.50 554.00L238.00 556.50L235.50 559.00L233.00 556.50Z" fill="#a2194f"/>
<path d="M231.20 568.40L233.70 570.90L231.20 573.40L228.70 570.90Z" fill="#a2194f"/>
<path d="M231.20 575.40L233.70 577.90L231.20 580.40L228.70 577.90Z" fill="#a2194f"/>
<path d="M213.50 582.30L216.00 584.80L213.50 587.30L211.00 584.80Z" fill="#a2194f"/>
<path d="M222.30 582.30L224.80 584.80L222.30 587.30L219.80 584.80Z" fill="#a2194f"/>
<path d="M231.20 582.30L233.70 584.80L231.20 587.30L228.70 584.80Z" fill="#a2194f"/>
<path d="M240.00 582.30L242.50 584.80L240.00 587.30L237.50 584.80Z" fill="#a2194f"/>
<path d="M248.90 582.30L251.40 584.80L248.90 587.30L246.40 584.80Z" fill="#a2194f"/>
<path d="M231.20 589.50L233.70 592.00L231.20 594.50L228.70 592.00Z" fill="#a2194f"/>
<path d="M222.30 596.70L224.80 599.20L222.30 601.70L219.80 599.20Z" fill="#a2194f"/>
<path d="M231.20 596.70L233.70 599.20L231.20 601.70L228.70 599.20Z" fill="#a2194f"/>
<path d="M240.00 596.70L242.50 599.20L240.00 601.70L237.50 599.20Z" fill="#a2194f"/>
<path d="M226.60 603.70L229.10 606.20L226.60 608.70L224.10 606.20Z" fill="#a2194f"/>
<path d="M235.50 603.70L238.00 606.20L235.50 608.70L233.00 606.20Z" fill="#a2194f"/>
<path d="M231.20 618.20L233.70 620.70L231.20 623.20L228.70 620.70Z" fill="#a2194f"/>
<line x1="231.20" y1="579.70" x2="231.20" y2="590.30" stroke="#a2194f" stroke-width="1.5" />
<line x1="221.60" y1="579.70" x2="240.80" y2="579.70" stroke="#a2194f" stroke-width="1.5" />
<line x1="221.60" y1="590.30" x2="240.80" y2="590.30" stroke="#a2194f" stroke-width="1.5" />
<text x="0.00" y="0.00" font-size="9.7" font-weight="bold" text-anchor="middle" fill="#000" transform="translate(348.2,583.30) rotate(-90)">Concentration (pg/mL)</text>
<text x="355.80" y="495.80" font-size="17" font-weight="normal" text-anchor="start" fill="#333" >f)</text>
<text x="442.50" y="490.60" font-size="13.2" font-weight="bold" text-anchor="start" fill="#000" >Serum Estradiol</text>
<line x1="373.60" y1="617.3" x2="613" y2="617.3" stroke="#222" stroke-width="1" stroke-dasharray="1.1 1.1"/>
<rect x="378.90" y="618.25" width="10.20" height="35.25" fill="#d5d5d5"/>
<path d="M378.90 653.50V618.25H389.10V653.50" fill="none" stroke="#606060" stroke-width="2.7" stroke-linejoin="round"/>
<rect x="395.60" y="618.05" width="10.20" height="35.45" fill="#d5d5d5"/>
<path d="M395.60 653.50V618.05H405.80V653.50" fill="none" stroke="#272a7c" stroke-width="2.7" stroke-linejoin="round"/>
<rect x="412.30" y="612.85" width="10.20" height="40.65" fill="#d5d5d5"/>
<path d="M412.30 653.50V612.85H422.50V653.50" fill="none" stroke="#a2194f" stroke-width="2.7" stroke-linejoin="round"/>
<rect x="440.20" y="626.75" width="10.20" height="26.75" fill="#d5d5d5"/>
<path d="M440.20 653.50V626.75H450.40V653.50" fill="none" stroke="#606060" stroke-width="2.7" stroke-linejoin="round"/>
<rect x="456.90" y="622.95" width="10.20" height="30.55" fill="#d5d5d5"/>
<path d="M456.90 653.50V622.95H467.10V653.50" fill="none" stroke="#272a7c" stroke-width="2.7" stroke-linejoin="round"/>
<rect x="473.60" y="613.25" width="10.20" height="40.25" fill="#d5d5d5"/>
<path d="M473.60 653.50V613.25H483.80V653.50" fill="none" stroke="#a2194f" stroke-width="2.7" stroke-linejoin="round"/>
<rect x="501.50" y="622.95" width="10.20" height="30.55" fill="#d5d5d5"/>
<path d="M501.50 653.50V622.95H511.70V653.50" fill="none" stroke="#606060" stroke-width="2.7" stroke-linejoin="round"/>
<rect x="518.20" y="634.35" width="10.20" height="19.15" fill="#d5d5d5"/>
<path d="M518.20 653.50V634.35H528.40V653.50" fill="none" stroke="#272a7c" stroke-width="2.7" stroke-linejoin="round"/>
<rect x="534.90" y="623.15" width="10.20" height="30.35" fill="#d5d5d5"/>
<path d="M534.90 653.50V623.15H545.10V653.50" fill="none" stroke="#a2194f" stroke-width="2.7" stroke-linejoin="round"/>
<rect x="562.90" y="616.65" width="10.20" height="36.85" fill="#d5d5d5"/>
<path d="M562.90 653.50V616.65H573.10V653.50" fill="none" stroke="#606060" stroke-width="2.7" stroke-linejoin="round"/>
<rect x="579.60" y="602.55" width="10.20" height="50.95" fill="#d5d5d5"/>
<path d="M579.60 653.50V602.55H589.80V653.50" fill="none" stroke="#272a7c" stroke-width="2.7" stroke-linejoin="round"/>
<rect x="596.30" y="616.65" width="10.20" height="36.85" fill="#d5d5d5"/>
<path d="M596.30 653.50V616.65H606.50V653.50" fill="none" stroke="#a2194f" stroke-width="2.7" stroke-linejoin="round"/>
<line x1="372.60" y1="516.10" x2="372.60" y2="654.40" stroke="#000" stroke-width="1.9" />
<line x1="369.00" y1="653.50" x2="372.60" y2="653.50" stroke="#000" stroke-width="1.9" />
<text x="367.40" y="657.60" font-size="10.6" font-weight="bold" text-anchor="end" fill="#000" stroke="#000" stroke-width="0.3">0</text>
<line x1="369.00" y1="619.38" x2="372.60" y2="619.38" stroke="#000" stroke-width="1.9" />
<text x="367.40" y="623.48" font-size="10.6" font-weight="bold" text-anchor="end" fill="#000" stroke="#000" stroke-width="0.3">50</text>
<line x1="369.00" y1="585.25" x2="372.60" y2="585.25" stroke="#000" stroke-width="1.9" />
<text x="367.40" y="589.35" font-size="10.6" font-weight="bold" text-anchor="end" fill="#000" stroke="#000" stroke-width="0.3">100</text>
<line x1="369.00" y1="551.12" x2="372.60" y2="551.12" stroke="#000" stroke-width="1.9" />
<text x="367.40" y="555.23" font-size="10.6" font-weight="bold" text-anchor="end" fill="#000" stroke="#000" stroke-width="0.3">150</text>
<line x1="369.00" y1="517.00" x2="372.60" y2="517.00" stroke="#000" stroke-width="1.9" />
<text x="367.40" y="521.10" font-size="10.6" font-weight="bold" text-anchor="end" fill="#000" stroke="#000" stroke-width="0.3">200</text>
<line x1="372.60" y1="653.50" x2="613.00" y2="653.50" stroke="#000" stroke-width="1.9" />
<text x="400.90" y="666.60" font-size="9.9" font-weight="bold" text-anchor="middle" fill="#000" >Proestrus</text>
<text x="462.20" y="666.60" font-size="9.9" font-weight="bold" text-anchor="middle" fill="#000" >Estrus</text>
<text x="523.50" y="666.60" font-size="9.9" font-weight="bold" text-anchor="middle" fill="#000" >Metestrus</text>
<text x="584.90" y="666.60" font-size="9.9" font-weight="bold" text-anchor="middle" fill="#000" >Diestrus</text>
<circle cx="381.80" cy="605.60" r="1.15" fill="#606060"/>
<circle cx="386.10" cy="605.60" r="1.15" fill="#606060"/>
<circle cx="384.00" cy="610.90" r="1.15" fill="#606060"/>
<circle cx="381.50" cy="616.00" r="1.15" fill="#606060"/>
<circle cx="386.50" cy="616.00" r="1.15" fill="#606060"/>
<circle cx="384.00" cy="626.20" r="1.15" fill="#606060"/>
<circle cx="384.00" cy="646.30" r="1.15" fill="#606060"/>
<circle cx="445.30" cy="608.00" r="1.15" fill="#606060"/>
<circle cx="445.30" cy="610.80" r="1.15" fill="#606060"/>
<circle cx="443.80" cy="613.60" r="1.15" fill="#606060"/>
<circle cx="446.80" cy="613.60" r="1.15" fill="#606060"/>
<circle cx="445.30" cy="616.50" r="1.15" fill="#606060"/>
<circle cx="443.80" cy="621.10" r="1.15" fill="#606060"/>
<circle cx="446.80" cy="621.10" r="1.15" fill="#606060"/>
<circle cx="443.80" cy="641.20" r="1.15" fill="#606060"/>
<circle cx="446.80" cy="641.20" r="1.15" fill="#606060"/>
<circle cx="445.30" cy="647.40" r="1.15" fill="#606060"/>
<circle cx="506.50" cy="614.90" r="1.15" fill="#606060"/>
<circle cx="510.80" cy="614.10" r="1.15" fill="#606060"/>
<circle cx="506.50" cy="618.50" r="1.15" fill="#606060"/>
<circle cx="506.50" cy="635.90" r="1.15" fill="#606060"/>
<circle cx="506.50" cy="640.40" r="1.15" fill="#606060"/>
<circle cx="566.60" cy="614.30" r="1.15" fill="#606060"/>
<circle cx="570.10" cy="613.80" r="1.15" fill="#606060"/>
<circle cx="568.30" cy="615.50" r="1.15" fill="#606060"/>
<circle cx="568.10" cy="624.70" r="1.15" fill="#606060"/>
<path d="M398.30 601.60L399.60 604.15L397.00 604.15Z" fill="#272a7c"/>
<path d="M402.90 603.50L404.20 606.05L401.60 606.05Z" fill="#272a7c"/>
<path d="M400.40 642.80L401.70 645.35L399.10 645.35Z" fill="#272a7c"/>
<path d="M459.70 609.60L461.00 612.15L458.40 612.15Z" fill="#272a7c"/>
<path d="M464.80 609.60L466.10 612.15L463.50 612.15Z" fill="#272a7c"/>
<path d="M462.00 612.20L463.30 614.75L460.70 614.75Z" fill="#272a7c"/>
<path d="M462.00 637.20L463.30 639.75L460.70 639.75Z" fill="#272a7c"/>
<path d="M462.00 645.00L463.30 647.55L460.70 647.55Z" fill="#272a7c"/>
<path d="M518.60 623.30L519.90 625.85L517.30 625.85Z" fill="#272a7c"/>
<path d="M521.10 623.30L522.40 625.85L519.80 625.85Z" fill="#272a7c"/>
<path d="M524.80 621.10L526.10 623.65L523.50 623.65Z" fill="#272a7c"/>
<path d="M527.70 621.50L529.00 624.05L526.40 624.05Z" fill="#272a7c"/>
<path d="M524.80 623.80L526.10 626.35L523.50 626.35Z" fill="#272a7c"/>
<path d="M523.20 626.00L524.50 628.55L521.90 628.55Z" fill="#272a7c"/>
<path d="M521.50 639.60L522.80 642.15L520.20 642.15Z" fill="#272a7c"/>
<path d="M524.80 639.60L526.10 642.15L523.50 642.15Z" fill="#272a7c"/>
<path d="M524.80 636.80L526.10 639.35L523.50 639.35Z" fill="#272a7c"/>
<path d="M523.20 644.50L524.50 647.05L521.90 647.05Z" fill="#272a7c"/>
<path d="M523.20 647.00L524.50 649.55L521.90 649.55Z" fill="#272a7c"/>
<path d="M584.60 552.00L585.90 554.55L583.30 554.55Z" fill="#272a7c"/>
<path d="M582.80 604.00L584.10 606.55L581.50 606.55Z" fill="#272a7c"/>
<path d="M586.80 604.00L588.10 606.55L585.50 606.55Z" fill="#272a7c"/>
<path d="M584.80 605.70L586.10 608.25L583.50 608.25Z" fill="#272a7c"/>
<path d="M584.80 611.10L586.10 613.65L583.50 613.65Z" fill="#272a7c"/>
<path d="M584.80 615.10L586.10 617.65L583.50 617.65Z" fill="#272a7c"/>
<path d="M417.30 597.10L418.70 598.50L417.30 599.90L415.90 598.50Z" fill="#a2194f"/>
<path d="M417.30 624.10L418.70 625.50L417.30 626.90L415.90 625.50Z" fill="#a2194f"/>
<path d="M474.40 608.40L475.80 609.80L474.40 611.20L473.00 609.80Z" fill="#a2194f"/>
<path d="M535.90 614.30L537.30 615.70L535.90 617.10L534.50 615.70Z" fill="#a2194f"/>
<path d="M544.60 613.70L546.00 615.10L544.60 616.50L543.20 615.10Z" fill="#a2194f"/>
<path d="M540.50 615.90L541.90 617.30L540.50 618.70L539.10 617.30Z" fill="#a2194f"/>
<path d="M535.90 618.40L537.30 619.80L535.90 621.20L534.50 619.80Z" fill="#a2194f"/>
<path d="M540.50 635.90L541.90 637.30L540.50 638.70L539.10 637.30Z" fill="#a2194f"/>
<path d="M597.40 611.40L598.80 612.80L597.40 614.20L596.00 612.80Z" fill="#a2194f"/>
<path d="M601.50 610.40L602.90 611.80L601.50 613.20L600.10 611.80Z" fill="#a2194f"/>
<path d="M606.00 612.40L607.40 613.80L606.00 615.20L604.60 613.80Z" fill="#a2194f"/>
<path d="M601.50 620.50L602.90 621.90L601.50 623.30L600.10 621.90Z" fill="#a2194f"/>
<line x1="384.10" y1="614.50" x2="384.10" y2="621.00" stroke="#606060" stroke-width="1.1" />
<line x1="381.40" y1="614.50" x2="386.80" y2="614.50" stroke="#606060" stroke-width="1.1" />
<line x1="381.40" y1="621.00" x2="386.80" y2="621.00" stroke="#606060" stroke-width="1.1" />
<line x1="400.70" y1="611.30" x2="400.70" y2="622.90" stroke="#272a7c" stroke-width="1.1" />
<line x1="398.00" y1="611.30" x2="403.40" y2="611.30" stroke="#272a7c" stroke-width="1.1" />
<line x1="398.00" y1="622.90" x2="403.40" y2="622.90" stroke="#272a7c" stroke-width="1.1" />
<line x1="417.40" y1="608.40" x2="417.40" y2="615.10" stroke="#a2194f" stroke-width="1.1" />
<line x1="414.70" y1="608.40" x2="420.10" y2="608.40" stroke="#a2194f" stroke-width="1.1" />
<line x1="414.70" y1="615.10" x2="420.10" y2="615.10" stroke="#a2194f" stroke-width="1.1" />
<line x1="445.30" y1="620.80" x2="445.30" y2="629.70" stroke="#606060" stroke-width="1.1" />
<line x1="442.60" y1="620.80" x2="448.00" y2="620.80" stroke="#606060" stroke-width="1.1" />
<line x1="442.60" y1="629.70" x2="448.00" y2="629.70" stroke="#606060" stroke-width="1.1" />
<line x1="462.10" y1="616.80" x2="462.10" y2="627.30" stroke="#272a7c" stroke-width="1.1" />
<line x1="459.40" y1="616.80" x2="464.80" y2="616.80" stroke="#272a7c" stroke-width="1.1" />
<line x1="459.40" y1="627.30" x2="464.80" y2="627.30" stroke="#272a7c" stroke-width="1.1" />
<line x1="506.50" y1="617.80" x2="506.50" y2="626.00" stroke="#606060" stroke-width="1.1" />
<line x1="503.80" y1="617.80" x2="509.20" y2="617.80" stroke="#606060" stroke-width="1.1" />
<line x1="503.80" y1="626.00" x2="509.20" y2="626.00" stroke="#606060" stroke-width="1.1" />
<line x1="523.30" y1="630.50" x2="523.30" y2="635.90" stroke="#272a7c" stroke-width="1.1" />
<line x1="520.60" y1="630.50" x2="526.00" y2="630.50" stroke="#272a7c" stroke-width="1.1" />
<line x1="520.60" y1="635.90" x2="526.00" y2="635.90" stroke="#272a7c" stroke-width="1.1" />
<line x1="540.30" y1="617.80" x2="540.30" y2="623.50" stroke="#a2194f" stroke-width="1.1" />
<line x1="537.60" y1="617.80" x2="543.00" y2="617.80" stroke="#a2194f" stroke-width="1.1" />
<line x1="537.60" y1="623.50" x2="543.00" y2="623.50" stroke="#a2194f" stroke-width="1.1" />
<line x1="568.20" y1="613.80" x2="568.20" y2="617.50" stroke="#606060" stroke-width="1.1" />
<line x1="565.50" y1="613.80" x2="570.90" y2="613.80" stroke="#606060" stroke-width="1.1" />
<line x1="565.50" y1="617.50" x2="570.90" y2="617.50" stroke="#606060" stroke-width="1.1" />
<line x1="584.90" y1="595.10" x2="584.90" y2="604.20" stroke="#272a7c" stroke-width="1.1" />
<line x1="582.20" y1="595.10" x2="587.60" y2="595.10" stroke="#272a7c" stroke-width="1.1" />
<line x1="582.20" y1="604.20" x2="587.60" y2="604.20" stroke="#272a7c" stroke-width="1.1" />
<line x1="601.60" y1="613.30" x2="601.60" y2="617.30" stroke="#a2194f" stroke-width="1.1" />
<line x1="598.90" y1="613.30" x2="604.30" y2="613.30" stroke="#a2194f" stroke-width="1.1" />
<line x1="598.90" y1="617.30" x2="604.30" y2="617.30" stroke="#a2194f" stroke-width="1.1" />
<path d="M400.4 597.7V543.2H523.6V617.0" fill="none" stroke="#000" stroke-width="1.8"/>
<path d="M461.6 527.2V503.0H585.3V518.2" fill="none" stroke="#000" stroke-width="1.8"/>
<path d="M523.3 538.3V522.6H585.3V538.3" fill="none" stroke="#000" stroke-width="1.8"/>
<path d="M568.0 607.8V543.4H583.6V547.6" fill="none" stroke="#000" stroke-width="1.8"/>
<path d="M586.4 547.6V543.4H601.5V606.8" fill="none" stroke="#000" stroke-width="1.8"/>
<line x1="462.00" y1="533.55" x2="462.00" y2="538.85" stroke="#000" stroke-width="1.2" />
<line x1="459.71" y1="534.88" x2="464.29" y2="537.53" stroke="#000" stroke-width="1.2" />
<line x1="464.29" y1="534.88" x2="459.71" y2="537.53" stroke="#000" stroke-width="1.2" />
<line x1="519.60" y1="493.15" x2="519.60" y2="498.45" stroke="#000" stroke-width="1.2" />
<line x1="517.31" y1="494.48" x2="521.89" y2="497.12" stroke="#000" stroke-width="1.2" />
<line x1="521.89" y1="494.48" x2="517.31" y2="497.12" stroke="#000" stroke-width="1.2" />
<line x1="527.10" y1="493.15" x2="527.10" y2="498.45" stroke="#000" stroke-width="1.2" />
<line x1="524.81" y1="494.48" x2="529.39" y2="497.12" stroke="#000" stroke-width="1.2" />
<line x1="529.39" y1="494.48" x2="524.81" y2="497.12" stroke="#000" stroke-width="1.2" />
<line x1="543.20" y1="513.25" x2="543.20" y2="518.55" stroke="#000" stroke-width="1.2" />
<line x1="540.91" y1="514.57" x2="545.49" y2="517.23" stroke="#000" stroke-width="1.2" />
<line x1="545.49" y1="514.57" x2="540.91" y2="517.23" stroke="#000" stroke-width="1.2" />
<line x1="550.47" y1="513.25" x2="550.47" y2="518.55" stroke="#000" stroke-width="1.2" />
<line x1="548.18" y1="514.57" x2="552.76" y2="517.23" stroke="#000" stroke-width="1.2" />
<line x1="552.76" y1="514.57" x2="548.18" y2="517.23" stroke="#000" stroke-width="1.2" />
<line x1="557.74" y1="513.25" x2="557.74" y2="518.55" stroke="#000" stroke-width="1.2" />
<line x1="555.45" y1="514.57" x2="560.03" y2="517.23" stroke="#000" stroke-width="1.2" />
<line x1="560.03" y1="514.57" x2="555.45" y2="517.23" stroke="#000" stroke-width="1.2" />
<line x1="565.01" y1="513.25" x2="565.01" y2="518.55" stroke="#000" stroke-width="1.2" />
<line x1="562.72" y1="514.57" x2="567.30" y2="517.23" stroke="#000" stroke-width="1.2" />
<line x1="567.30" y1="514.57" x2="562.72" y2="517.23" stroke="#000" stroke-width="1.2" />
<line x1="575.50" y1="533.45" x2="575.50" y2="538.75" stroke="#000" stroke-width="1.2" />
<line x1="573.21" y1="534.77" x2="577.79" y2="537.43" stroke="#000" stroke-width="1.2" />
<line x1="577.79" y1="534.77" x2="573.21" y2="537.43" stroke="#000" stroke-width="1.2" />
<line x1="593.90" y1="533.45" x2="593.90" y2="538.75" stroke="#000" stroke-width="1.2" />
<line x1="591.61" y1="534.77" x2="596.19" y2="537.43" stroke="#000" stroke-width="1.2" />
<line x1="596.19" y1="534.77" x2="591.61" y2="537.43" stroke="#000" stroke-width="1.2" />
</svg></div>
</body></html>
